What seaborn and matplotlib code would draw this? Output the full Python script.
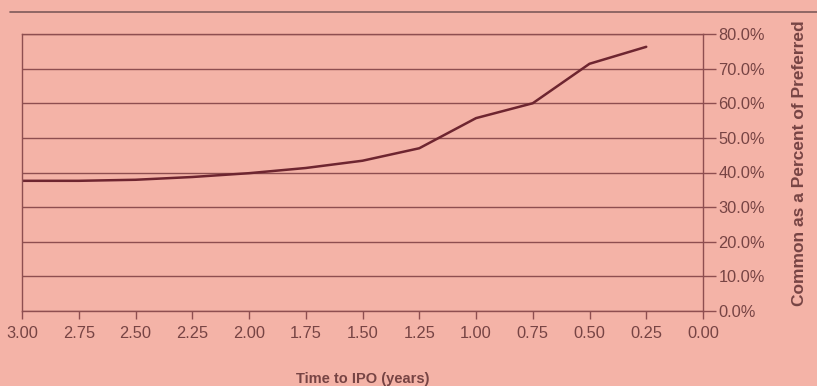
import matplotlib
matplotlib.use("Agg")
import matplotlib.pyplot as plt
import matplotlib.ticker as mticker
from matplotlib.lines import Line2D
import seaborn as sns
import pandas as pd

years_to_ipo = [3.00, 2.75, 2.50, 2.25, 2.00, 1.75, 1.50, 1.25, 1.00, 0.75, 0.50, 0.25]
common_pct = [37.6, 37.6, 37.9, 38.7, 39.8, 41.3, 43.4, 47.0, 55.7, 60.0, 71.4, 76.3]
x_ticks = [3.00, 2.75, 2.50, 2.25, 2.00, 1.75, 1.50, 1.25, 1.00, 0.75, 0.50, 0.25, 0.00]
y_ticks = [0, 10, 20, 30, 40, 50, 60, 70, 80]

bg = "#F4B3A7"
ink = "#774444"
grid_c = "#8E4E50"
line_c = "#6E2530"

sns.set_theme(style="white")
plt.rcParams["font.family"] = ["Liberation Sans", "DejaVu Sans"]

fig = plt.figure(figsize=(8.17, 3.86), dpi=100, facecolor=bg)
ax = fig.add_axes([22 / 817, 1 - 311 / 386, (703 - 22) / 817, (311 - 34) / 386])
ax.set_facecolor(bg)

df = pd.DataFrame({"t": years_to_ipo, "pct": common_pct})
sns.lineplot(data=df, x="t", y="pct", ax=ax, color=line_c, linewidth=1.8, sort=False)

ax.set_xlim(3.0, 0.0)
ax.set_ylim(0, 80)
ax.set_xticks(x_ticks)
ax.set_xticklabels([f"{v:.2f}" for v in x_ticks])
ax.set_yticks(y_ticks)
ax.yaxis.set_major_formatter(mticker.FuncFormatter(lambda v, p: f"{v:.1f}%"))
ax.yaxis.tick_right()

for yv in y_ticks:
    ax.axhline(yv, color=grid_c, linewidth=1.0, zorder=1)

for side in ["left", "right", "bottom", "top"]:
    ax.spines[side].set_visible(True)
    ax.spines[side].set_color(grid_c)
    ax.spines[side].set_linewidth(1.0)

ax.tick_params(axis="y", which="major", direction="out", length=9, width=1.0,
               color=grid_c, labelsize=11.8, labelcolor=ink, pad=2,
               right=True, left=False)
ax.tick_params(axis="x", which="major", direction="out", length=6, width=1.0,
               color=grid_c, labelsize=11.8, labelcolor=ink, pad=5, bottom=True)

ax.set_xlabel("Time to IPO (years)", fontsize=10.5, fontweight="bold", color=ink, labelpad=22)
ax.set_ylabel("")
fig.text(800 / 817, 1 - 163 / 386, "Common as a Percent of Preferred", rotation=90,
         ha="center", va="center", fontsize=12.5, fontweight="bold", color=ink)

fig.add_artist(Line2D([10 / 817, 1.0], [1 - 12 / 386, 1 - 12 / 386],
                      transform=fig.transFigure, color="#7E5A5A", linewidth=1.2))

fig.savefig("out.png", dpi=100, facecolor=bg)
